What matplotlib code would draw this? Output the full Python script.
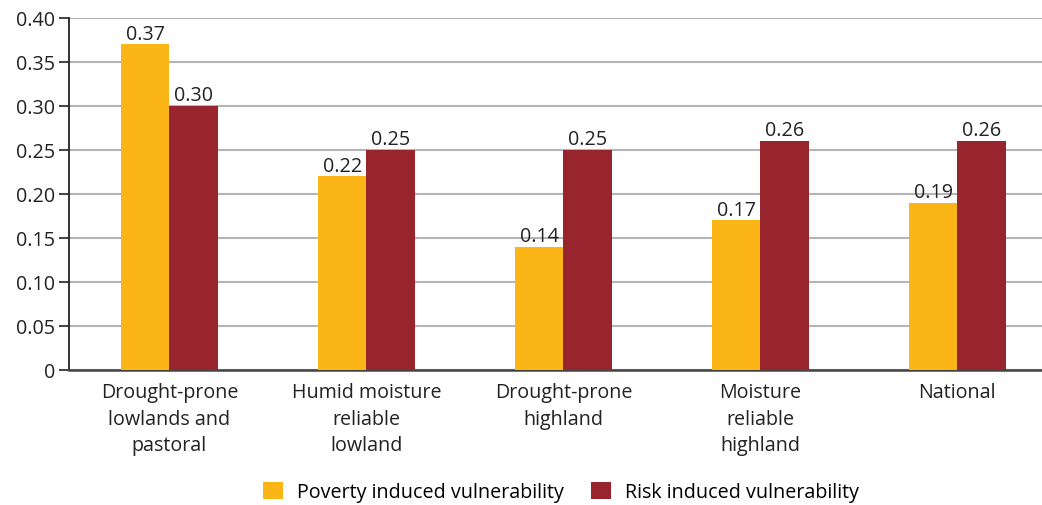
import matplotlib
matplotlib.use("Agg")
import matplotlib.pyplot as plt
import numpy as np
from matplotlib.ticker import FixedLocator

plt.rcParams['font.family'] = ['Open Sans', 'DejaVu Sans']

categories = ["Drought-prone\nlowlands and\npastoral", "Humid moisture\nreliable\nlowland",
              "Drought-prone\nhighland", "Moisture\nreliable\nhighland", "National"]
poverty = [0.37, 0.22, 0.14, 0.17, 0.19]
risk = [0.30, 0.25, 0.25, 0.26, 0.26]
series_names = ["Poverty induced vulnerability", "Risk induced vulnerability"]
ytick_values = [0, 0.05, 0.10, 0.15, 0.20, 0.25, 0.30, 0.35, 0.40]
ytick_labels = ["0", "0.05", "0.10", "0.15", "0.20", "0.25", "0.30", "0.35", "0.40"]

yellow = "#FBB516"
red = "#98242E"
txt = "#222222"
fs = 14.2
W, H = 1042, 506

fig = plt.figure(figsize=(W / 100, H / 100), dpi=100)
ax = fig.add_axes([69 / W, (H - 371) / H, (W - 69) / W, 352 / H])

x = np.arange(len(categories))
bw = 0.245
b1 = ax.bar(x - bw / 2, poverty, bw, color=yellow, label=series_names[0], zorder=3)
b2 = ax.bar(x + bw / 2, risk, bw, color=red, label=series_names[1], zorder=3)

for bars, vals in ((b1, poverty), (b2, risk)):
    for rect, v in zip(bars, vals):
        ax.text(rect.get_x() + rect.get_width() / 2, v + 0.001, f"{v:.2f}",
                ha="center", va="bottom", fontsize=fs, color=txt)

ax.set_ylim(0, 0.40)
ax.set_xlim(-0.51, 4.43)
ax.yaxis.set_major_locator(FixedLocator(ytick_values))
ax.set_yticklabels(ytick_labels, fontsize=fs, color=txt)
ax.set_xticks(x)
ax.set_xticklabels(categories, fontsize=fs, color=txt, linespacing=1.43)
ax.tick_params(axis="x", length=0, pad=9)
ax.tick_params(axis="y", length=7, width=1.2, color=txt, pad=3)

ax.grid(axis="y", color="#b5b5b5", linewidth=1.5, zorder=0)
ax.set_axisbelow(True)
for s in ("top", "right"):
    ax.spines[s].set_visible(False)
ax.spines["left"].set_color(txt)
ax.spines["left"].set_linewidth(1.3)
ax.spines["bottom"].set_color("#444444")
ax.spines["bottom"].set_linewidth(1.8)

fig.legend(handles=[b1, b2], labels=series_names, loc="center",
           bbox_to_anchor=(561 / W, (H - 493) / H), ncol=2, frameon=False,
           fontsize=fs, handlelength=1.0, handleheight=1.0, columnspacing=1.4,
           handletextpad=0.7)

fig.savefig("out.png", dpi=100)
